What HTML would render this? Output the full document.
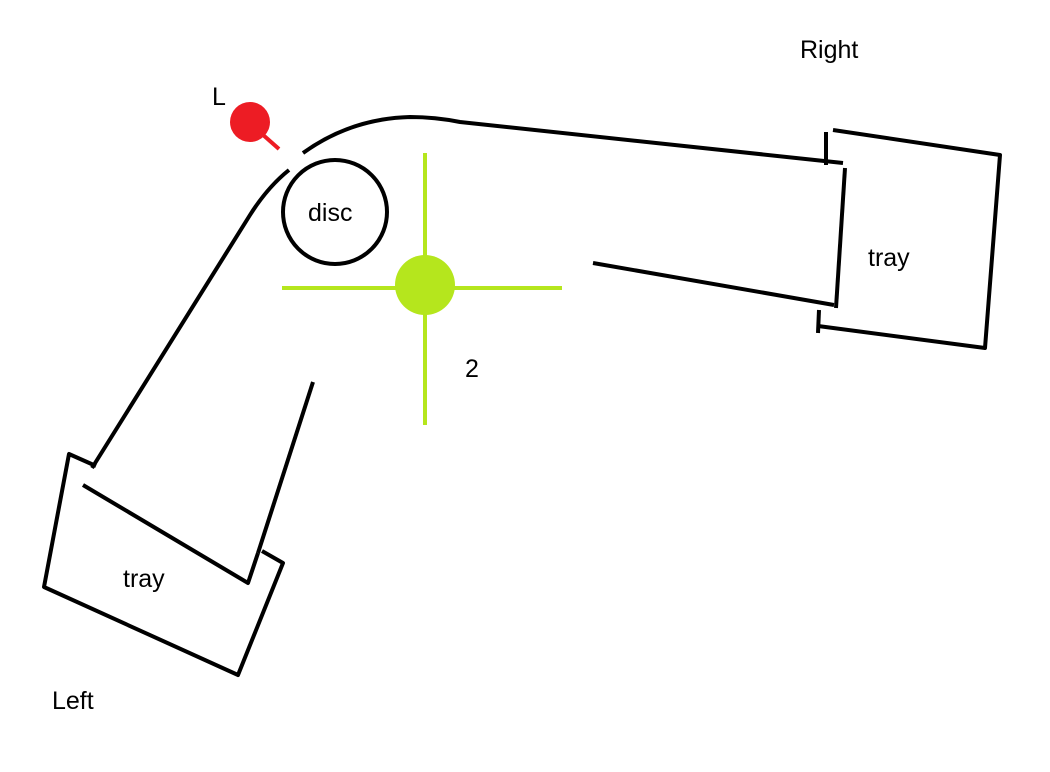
<!DOCTYPE html>
<html><head><meta charset="utf-8"><style>
html,body{margin:0;padding:0;background:#fff;width:1050px;height:772px;overflow:hidden}
svg text{font-family:"Liberation Sans",sans-serif;font-size:25px;fill:#000}
</style></head><body>
<svg width="1050" height="772" viewBox="0 0 1050 772">
<g stroke="#000" stroke-width="4" fill="none" stroke-linecap="butt" stroke-linejoin="round">
<path d="M92 468 L250 215 C262 196 274 182 289 170"/>
<path d="M303 153 C335 130 370 118 410 117 C430 117 445 119 460 122 L843 163"/>
<circle cx="335" cy="212" r="52"/>
<line x1="593" y1="263" x2="834" y2="305"/>
<line x1="845" y1="168" x2="836" y2="308"/>
<line x1="826" y1="132" x2="826" y2="165"/>
<line x1="819" y1="310" x2="818" y2="333"/>
<polyline points="833,130 1000,155 985,348 818,326"/>
<line x1="313" y1="382" x2="258" y2="553"/>
<polyline points="83,485 248,583 258,553"/>
<polyline points="96,466 69,454 44,587 238,675 283,563 262,551"/>
</g>
<g stroke="#b5e61d" stroke-width="4">
<line x1="425" y1="153" x2="425" y2="425"/>
<line x1="282" y1="288" x2="562" y2="288"/>
<circle cx="425" cy="285" r="30" fill="#b5e61d" stroke="none"/>
</g>
<g>
<line x1="262" y1="134" x2="279" y2="149" stroke="#ed1c24" stroke-width="4"/>
<circle cx="250" cy="122" r="20" fill="#ed1c24"/>
</g>
<text x="800" y="58">Right</text>
<text x="212" y="105">L</text>
<text x="308" y="221">disc</text>
<text x="465" y="377">2</text>
<text x="868" y="266">tray</text>
<text x="123" y="587">tray</text>
<text x="52" y="709">Left</text>
</svg>
</body></html>
